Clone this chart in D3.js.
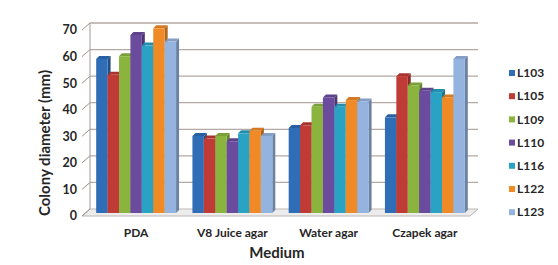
<!DOCTYPE html>
<html>
<head>
<meta charset="utf-8">
<script src="https://cdn.jsdelivr.net/npm/d3@7"></script>
<style>
  body { margin: 0; background: #fff; }
  svg text { font-family: Lato, "Open Sans", sans-serif; font-weight: bold; fill: #262626; }
</style>
</head>
<body>
<div id="chart"></div>
<script>
var media = ['PDA', 'V8 Juice agar', 'Water agar', 'Czapek agar'];
var strains = ['L103', 'L105', 'L109', 'L110', 'L116', 'L122', 'L123'];
var colors = ['#2f6db6', '#c03b35', '#8ab43e', '#6b4b9e', '#29a2c4', '#f08a26', '#95b3df'];
var L103 = [58, 29, 32, 36];
var L105 = [52, 28, 33, 51.5];
var L109 = [59, 29, 40, 48];
var L110 = [67, 27, 43.5, 46];
var L116 = [63, 30, 40, 45.5];
var L122 = [69.5, 31, 42.5, 43.5];
var L123 = [64.5, 29, 42, 58];
var yTicks = [0, 10, 20, 30, 40, 50, 60, 70];

var series = [L103, L105, L109, L110, L116, L122, L123];

var size = { width: 558, height: 265 };
// 3D depth offset between the front edge and the back wall
var depth = { dx: 8, dy: -7 };
var barDepth = { dx: 3, dy: -3 };

var svg = d3.select('#chart').append('svg')
  .attr('width', size.width)
  .attr('height', size.height);

var x0 = d3.scaleBand()
  .domain(media)
  .range([88, 473])
  .paddingInner(0.17)
  .paddingOuter(0.085);

var x1 = d3.scaleBand()
  .domain(strains)
  .range([0, x0.bandwidth()]);

// front axis scale, back wall scale and bar scale
var yFront = d3.scaleLinear().domain([0, 70]).range([216, 30]);
var yBack = d3.scaleLinear().domain([0, 70]).range([209, 23]);
var yBar = d3.scaleLinear().domain([0, 70]).range([213, 27]);

var left = 82, right = 470;

// floor
svg.append('path')
  .attr('d', `M${left},${yFront(0)} L${right},${yFront(0)} L${right + depth.dx},${yBack(0)} L${left + depth.dx},${yBack(0)} Z`)
  .attr('fill', '#ececec')
  .attr('stroke', '#bdb6b2')
  .attr('stroke-width', 1);

// back wall gridlines
svg.append('g').selectAll('line')
  .data(yTicks.slice(1))
  .enter().append('line')
  .attr('x1', left + depth.dx)
  .attr('x2', right + depth.dx)
  .attr('y1', d => yBack(d))
  .attr('y2', d => yBack(d))
  .attr('stroke', '#b3a9a5')
  .attr('stroke-width', 1.3);

// back wall left edge
svg.append('line')
  .attr('x1', left + depth.dx).attr('x2', left + depth.dx)
  .attr('y1', yBack(70)).attr('y2', yBack(0))
  .attr('stroke', '#b3a9a5').attr('stroke-width', 1.2);

// diagonal ticks + labels
var ticks = svg.append('g');
ticks.selectAll('line')
  .data(yTicks)
  .enter().append('line')
  .attr('x1', left)
  .attr('x2', left + depth.dx)
  .attr('y1', d => yFront(d))
  .attr('y2', d => yBack(d))
  .attr('stroke', '#9a918d')
  .attr('stroke-width', 1);
ticks.selectAll('text')
  .data(yTicks)
  .enter().append('text')
  .attr('x', 77)
  .attr('y', d => yFront(d))
  .attr('dy', '0.35em')
  .attr('text-anchor', 'end')
  .style('font-size', '12.5px')
  .text(d => d);

// bars
var rows = [];
media.forEach((m, i) => {
  strains.forEach((s, j) => {
    rows.push({ medium: m, strain: s, value: series[j][i], color: colors[j] });
  });
});

var bar = svg.append('g').selectAll('g')
  .data(rows)
  .enter().append('g');

bar.append('path')
  .attr('fill', d => d3.color(d.color).darker(0.9))
  .attr('d', d => {
    var xr = x0(d.medium) + x1(d.strain) + x1.bandwidth();
    var yt = yBar(d.value), yb = yBar(0);
    return `M${xr},${yb} L${xr + barDepth.dx},${yb + barDepth.dy} L${xr + barDepth.dx},${yt + barDepth.dy} L${xr},${yt} Z`;
  });

bar.append('path')
  .attr('fill', d => d3.color(d.color).darker(0.35))
  .attr('d', d => {
    var xl = x0(d.medium) + x1(d.strain);
    var xr = xl + x1.bandwidth();
    var yt = yBar(d.value);
    return `M${xl},${yt} L${xl + barDepth.dx},${yt + barDepth.dy} L${xr + barDepth.dx},${yt + barDepth.dy} L${xr},${yt} Z`;
  });

bar.append('rect')
  .attr('x', d => x0(d.medium) + x1(d.strain))
  .attr('y', d => yBar(d.value))
  .attr('width', x1.bandwidth())
  .attr('height', d => yBar(0) - yBar(d.value))
  .attr('fill', d => d.color);

// category labels
svg.append('g').selectAll('text')
  .data(media)
  .enter().append('text')
  .attr('x', d => x0(d) + x0.bandwidth() / 2)
  .attr('y', 237)
  .attr('text-anchor', 'middle')
  .style('font-size', '12px')
  .text(d => d);

// axis titles
svg.append('text')
  .attr('x', 277)
  .attr('y', 258)
  .attr('text-anchor', 'middle')
  .style('font-size', '15px')
  .text('Medium');

svg.append('text')
  .attr('transform', 'translate(50, 143) rotate(-90)')
  .attr('text-anchor', 'middle')
  .style('font-size', '15px')
  .text('Colony diameter (mm)');

// legend
var legend = svg.append('g').selectAll('g')
  .data(strains)
  .enter().append('g')
  .attr('transform', (d, i) => `translate(509, ${73 + i * 23.2})`);

legend.append('rect')
  .attr('x', 0).attr('y', -3)
  .attr('width', 6).attr('height', 6)
  .attr('fill', (d, i) => colors[i]);

legend.append('text')
  .attr('x', 8)
  .attr('dy', '0.35em')
  .style('font-size', '12px')
  .text(d => d);
</script>
</body>
</html>
